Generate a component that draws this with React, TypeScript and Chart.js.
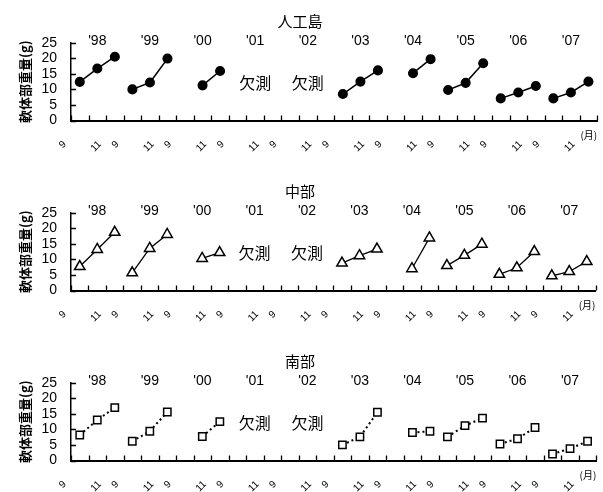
import React, { useEffect, useRef } from "react";
import { Chart, registerables } from "chart.js";

Chart.register(...registerables);

// ---------- data ----------
const years = ["'98", "'99", "'00", "'01", "'02", "'03", "'04", "'05", "'06", "'07"];
const months = ["9", "10", "11"];
const monthTickLabels = ["9", "", "11"];
const panelTitles = ["人工島", "中部", "南部"];
const missingYears = ["'01", "'02"];
const missingText = "欠測";
const missingTextLevel = 12;
const yTitle = "軟体部重量(g)";
const unitLabel = "(月)";
const yMin = 0;
const yMax = 25;
const yStep = 5;

// values per year: Sep, Oct, Nov (null = not measured)
const jinkotoValues = [
  12.4, 16.7, 20.5,
  10.0, 12.2, 19.9,
  null, 11.3, 15.9,
  null, null, null,
  null, null, null,
  8.5, 12.5, 16.1,
  null, 15.2, 19.7,
  9.8, 12.1, 18.4,
  7.1, 9.0, 11.1,
  7.1, 9.0, 12.5,
];
const chubuValues = [
  7.7, 13.2, 18.7,
  5.7, 13.5, 18.0,
  null, 10.3, 12.2,
  null, null, null,
  null, null, null,
  8.8, 11.2, 13.3,
  null, 7.0, 16.9,
  8.0, 11.3, 14.9,
  5.2, 7.3, 12.5,
  4.7, 6.1, 9.3,
];
const nanbuValues = [
  8.2, 13.0, 17.0,
  6.2, 9.4, 15.6,
  null, 7.7, 12.5,
  null, null, null,
  null, null, null,
  5.0, 7.6, 15.5,
  null, 9.0, 9.4,
  7.6, 11.2, 13.6,
  5.3, 7.0, 10.6,
  2.1, 3.8, 6.2,
];

const categoryLabels = years.flatMap((y) => months.map((m) => `${y}-${m}`));

const NUM_FONT = "'Liberation Sans', Arial, sans-serif";
const JP_FONT = "'Noto Sans CJK JP', sans-serif";

type Style = {
  pointStyle: string;
  radius: number;
  fill: string;
  lineWidth: number;
  dash: number[];
};

const styles: Style[] = [
  { pointStyle: "circle", radius: 4.3, fill: "#000", lineWidth: 1.5, dash: [] },
  { pointStyle: "triangle", radius: 6, fill: "#fff", lineWidth: 1.3, dash: [] },
  { pointStyle: "rect", radius: 5.2, fill: "#fff", lineWidth: 2, dash: [2, 3] },
];
const panelValues = [jinkotoValues, chubuValues, nanbuValues];

const TICK_LEN = 5;

// inward tick marks, year labels, "欠測" notes and unit label, all placed through the scales
const annotPlugin = {
  id: "annot",
  afterDraw(chart: any) {
    const { ctx, chartArea, scales } = chart;
    const xs = scales.x;
    const ys = scales.y;
    ctx.save();
    ctx.strokeStyle = "#000";
    ctx.lineWidth = 1.3;
    ctx.beginPath();
    for (let i = 0; i <= categoryLabels.length; i++) {
      const px = Math.round(xs.getPixelForValue(i - 0.5)) + 0.5;
      ctx.moveTo(px, chartArea.bottom);
      ctx.lineTo(px, chartArea.bottom - TICK_LEN);
    }
    ys.ticks.forEach((t: any) => {
      const py = Math.round(ys.getPixelForValue(t.value)) + 0.5;
      ctx.moveTo(chartArea.left, py);
      ctx.lineTo(chartArea.left + TICK_LEN, py);
    });
    ctx.stroke();

    ctx.fillStyle = "#000";
    ctx.textAlign = "center";
    ctx.textBaseline = "middle";
    ctx.font = `14px ${NUM_FONT}`;
    years.forEach((y, k) => {
      ctx.fillText(y, xs.getPixelForValue(k * 3 + 1), chartArea.top - 1.5);
    });

    ctx.font = `16px ${JP_FONT}`;
    missingYears.forEach((y) => {
      const idx = years.indexOf(y) * 3 + 1;
      ctx.fillText(missingText, xs.getPixelForValue(idx), ys.getPixelForValue(missingTextLevel));
    });
    ctx.font = `10px ${JP_FONT}`;
    ctx.textAlign = "right";
    ctx.fillText(unitLabel, chartArea.right, chartArea.bottom + 14.5);
    ctx.restore();
  },
};

function Panel({ index }: { index: number }) {
  const ref = useRef<HTMLCanvasElement>(null);
  useEffect(() => {
    const st = styles[index];
    const chart = new Chart(ref.current!, {
      type: "line",
      data: {
        labels: categoryLabels,
        datasets: [
          {
            data: panelValues[index] as any,
            borderColor: "#000",
            borderWidth: st.lineWidth,
            borderDash: st.dash,
            pointStyle: st.pointStyle as any,
            pointRadius: st.radius,
            pointBackgroundColor: st.fill,
            pointBorderColor: "#000",
            pointBorderWidth: 1.5,
            spanGaps: false,
            tension: 0,
            segment: {
              borderColor: (c: any) =>
                Math.floor(c.p0DataIndex / 3) !== Math.floor(c.p1DataIndex / 3) ? "rgba(0,0,0,0)" : undefined,
            },
          },
        ],
      },
      options: {
        responsive: false,
        animation: false,
        events: [],
        layout: { padding: { left: 0, right: 3, top: 0, bottom: 0 } },
        plugins: {
          legend: { display: false },
          tooltip: { enabled: false },
          title: {
            display: true,
            text: panelTitles[index],
            color: "#000",
            font: { family: JP_FONT, size: 15, weight: "normal" as any },
            padding: { top: 12, bottom: 12.7 },
          },
        },
        scales: {
          x: {
            type: "category",
            position: "bottom",
            offset: true,
            grid: {
              offset: true,
              drawOnChartArea: false,
              drawTicks: false,
              tickLength: 0,
            },
            border: { display: true, color: "#000", width: 2 },
            ticks: {
              autoSkip: false,
              minRotation: 45,
              maxRotation: 45,
              padding: 18,
              labelOffset: -15,
              color: "#000",
              font: { family: NUM_FONT, size: 10 },
              callback: (_v: any, i: number) => monthTickLabels[i % 3],
            },
            afterFit: (s: any) => {
              s.height = 49.5;
              s.paddingLeft = 0;
              s.paddingRight = 0;
            },
          },
          y: {
            min: yMin,
            max: yMax,
            ticks: {
              stepSize: yStep,
              autoSkip: false,
              padding: 14,
              color: "#000",
              font: { family: NUM_FONT, size: 14 },
            },
            grid: {
              drawOnChartArea: false,
              drawTicks: false,
              tickLength: 0,
            },
            border: { display: true, color: "#000", width: 1.5 },
            title: {
              display: true,
              text: yTitle,
              color: "#000",
              font: { family: JP_FONT, size: 13, weight: "bold" as any },
              padding: { top: 17, bottom: 0 },
            },
            afterFit: (s: any) => {
              s.width = 71;
              s.paddingTop = 0;
              s.paddingBottom = 0;
            },
          },
        },
      },
      plugins: [annotPlugin],
    } as any);
    return () => chart.destroy();
  }, [index]);
  return (
    <canvas
      ref={ref}
      width={603}
      height={170}
      style={{ position: "absolute", left: 0, top: index * 170, width: 603, height: 170, display: "block" }}
    />
  );
}

export default function App() {
  return (
    <div
      style={{
        position: "absolute",
        left: 0,
        top: 0,
        width: 603,
        height: 492,
        overflow: "hidden",
        background: "#fff",
      }}
    >
      {[0, 1, 2].map((i) => (
        <Panel key={i} index={i} />
      ))}
    </div>
  );
}
